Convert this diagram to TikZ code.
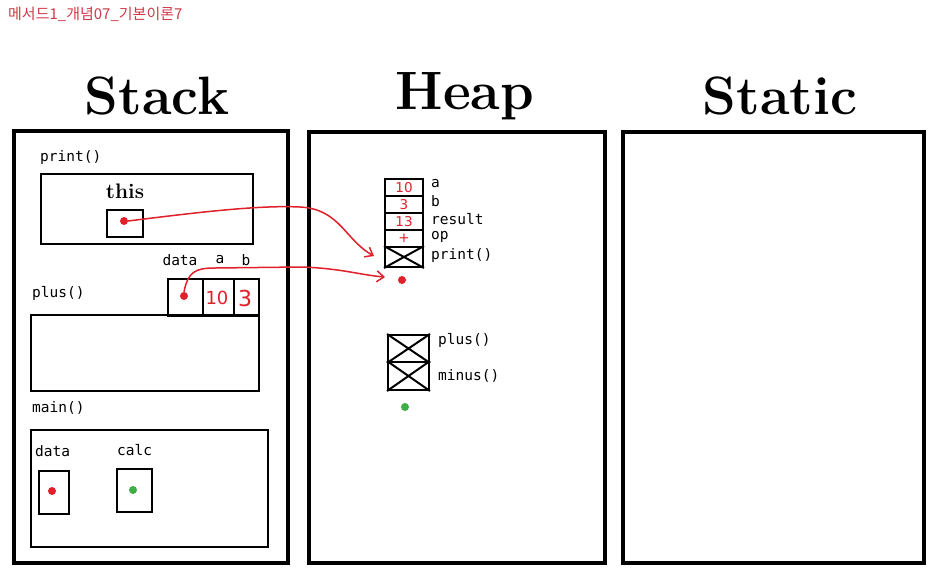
\documentclass[tikz,border=0pt]{standalone}
\usepackage{fontspec}
\usetikzlibrary{arrows.meta}
\newfontfamily\krfont{Noto Sans CJK KR}
\newfontfamily\monofont{DejaVu Sans Mono}
\newfontfamily\handfont{DejaVu Sans}
\definecolor{pred}{HTML}{E0202A}
\definecolor{pgreen}{HTML}{3CB043}
\definecolor{ttlred}{HTML}{D03A48}
\begin{document}
\begin{tikzpicture}[x=1pt,y=-1pt,
 area/.style={draw, line width=3.6pt, anchor=north west, inner sep=0pt},
 frame/.style={draw, line width=2.4pt, anchor=north west, inner sep=0pt},
 cell/.style={draw, line width=2pt, anchor=north west, inner sep=0pt},
 lbl/.style={font=\monofont\fontsize{14.5}{16}\selectfont, anchor=west, inner sep=0pt},
 clbl/.style={font=\monofont\fontsize{14.5}{16}\selectfont, inner sep=0pt},
 ttl/.style={font=\bfseries\fontsize{54}{60}\selectfont, inner sep=0pt},
 dot/.style={circle, fill=pred, inner sep=0pt, minimum size=8pt},
 gdot/.style={circle, fill=pgreen, inner sep=0pt, minimum size=8pt},
 ptr/.style={draw=pred, line width=1.5pt, -{Straight Barb[length=7pt,width=11pt]}},
 val/.style={text=pred, font=\handfont\fontsize{18}{18}\selectfont, inner sep=0pt},
 hval/.style={text=pred, font=\handfont\fontsize{13.5}{14}\selectfont, inner sep=0pt},
 xline/.style={line width=2pt},
]
\fill[white] (0,0) rectangle (943,582);
\useasboundingbox (0,0) rectangle (943,582);

% header
\node[anchor=west, text=ttlred, font=\krfont\fontsize{15}{17}\selectfont, inner sep=0pt] (hdr) at (8,14) {메서드1\_개념07\_기본이론7};

% titles
\node[ttl] (tstack) at (157,96) {Stack};
\node[ttl] (theap) at (465,96) {Heap};
\node[ttl] (tstatic) at (780,96) {Static};

% areas
\node[area, minimum width=274pt, minimum height=432pt] (stack) at (12,129) {};
\node[area, minimum width=296pt, minimum height=431pt] (heap) at (307,130) {};
\node[area, minimum width=301pt, minimum height=431pt] (static) at (621,130) {};

% print() frame
\node[lbl] (lprint) at (40,157) {print()};
\node[frame, minimum width=212pt, minimum height=70pt] (fprint) at (40,173) {};
\node[font=\bfseries\fontsize{21}{24}\selectfont, inner sep=0pt] (lthis) at (125,191) {this};
\node[cell, minimum width=36pt, minimum height=27pt] (bthis) at (106,209) {};
\node[dot] (thisdot) at (124,221) {};

% plus() frame
\node[clbl] (ldata) at (180,260) {data};
\node[clbl] (la) at (220,260) {a};
\node[clbl] (lb) at (246,260) {b};
\node[cell, minimum width=35pt, minimum height=37pt] (cdata) at (167,278) {};
\node[cell, minimum width=31pt, minimum height=37pt] (ca) at (202,278) {};
\node[cell, minimum width=25pt, minimum height=37pt] (cb) at (233,278) {};
\node[dot] (ddot) at (184,296) {};
\node[val] (va) at (217,298) {10};
\node[val, font=\handfont\fontsize{22}{22}\selectfont] (vb) at (245,298) {3};
\node[lbl] (lplus) at (32,293) {plus()};
\node[frame, minimum width=228pt, minimum height=76pt] (fplus) at (30,314) {};

% main() frame
\node[lbl] (lmain) at (32,408) {main()};
\node[frame, minimum width=237pt, minimum height=117pt] (fmain) at (30,429) {};
\node[lbl] (lmdata) at (35,451) {data};
\node[cell, minimum width=30pt, minimum height=43pt] (bmdata) at (38,470) {};
\node[dot] (mdot) at (52,491) {};
\node[lbl] (lcalc) at (117,450) {calc};
\node[cell, minimum width=35pt, minimum height=43pt] (bcalc) at (116,468) {};
\node[gdot] (cdot) at (133,490) {};

% heap object 1
\node[cell, minimum width=38pt, minimum height=17pt] (h1) at (384,178) {};
\node[cell, minimum width=38pt, minimum height=17pt] (h2) at (384,195) {};
\node[cell, minimum width=38pt, minimum height=17pt] (h3) at (384,212) {};
\node[cell, minimum width=38pt, minimum height=17pt] (h4) at (384,229) {};
\node[cell, minimum width=38pt, minimum height=20pt] (h5) at (384,246) {};
\draw[xline] (h5.north west) -- (h5.south east) (h5.south west) -- (h5.north east);
\node[hval] (v1) at (h1.center) {10};
\node[hval] (v2) at (h2.center) {3};
\node[hval] (v3) at (h3.center) {13};
\node[hval] (v4) at (h4.center) {+};
\node[lbl] (l1) at (431,184) {a};
\node[lbl] (l2) at (431,201) {b};
\node[lbl] (l3) at (431,219) {result};
\node[lbl] (l4) at (431,237) {op};
\node[lbl] (l5) at (431,255) {print()};
\node[dot] (hdot) at (402,280) {};

% heap object 2
\node[cell, minimum width=41pt, minimum height=27pt] (p1) at (387,334) {};
\node[cell, minimum width=41pt, minimum height=28pt] (p2) at (387,361) {};
\draw[xline] (p1.north west) -- (p1.south east) (p1.south west) -- (p1.north east);
\draw[xline] (p2.north west) -- (p2.south east) (p2.south west) -- (p2.north east);
\node[lbl] (lp1) at (438,340) {plus()};
\node[lbl] (lp2) at (438,376) {minus()};
\node[gdot] (hgdot) at (405,407) {};

% pointers
\coordinate (tip1) at (374,256);
\coordinate (tip2) at (385,277);
\draw[ptr] (thisdot.east) .. controls (200,212) and (260,205) .. (300,207)
  .. controls (340,209) and (345,240) .. (tip1);
\draw[ptr] (ddot.north) .. controls (188,272) and (195,268) .. (215,268)
  -- (300,267) .. controls (340,268) and (360,275) .. (tip2);
\end{tikzpicture}
\end{document}
